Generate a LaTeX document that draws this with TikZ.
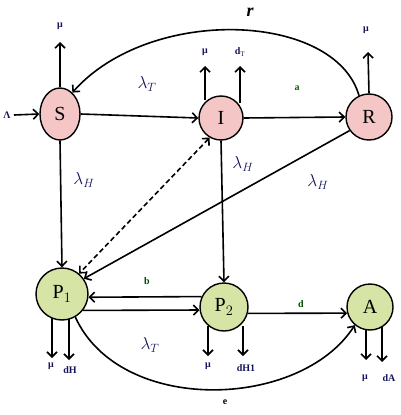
\documentclass[tikz,border=0pt]{standalone}
\usepackage{fontspec}
\setmainfont{Liberation Serif}
\usetikzlibrary{arrows.meta,shapes.geometric}
\definecolor{pinkfill}{RGB}{244,198,198}
\definecolor{greenfill}{RGB}{214,228,166}
\definecolor{navy}{RGB}{20,20,90}
\begin{document}
\begin{tikzpicture}[x=1pt,y=-1pt,
  comp/.style={draw=black,line width=1.4pt,inner sep=0pt,font=\fontsize{20}{22}\selectfont},
  pinkc/.style={comp,fill=pinkfill},
  greenc/.style={comp,fill=greenfill},
  tip/.tip={Straight Barb[length=5pt,width=10pt,line width=1.6pt]},
  arr/.style={line width=1.6pt,-tip},
  arrf/.style={line width=1.6pt,-tip},
  small/.style={font=\fontsize{10}{11}\selectfont\bfseries,text=navy,inner sep=1pt},
  lam/.style={font=\fontsize{17}{19}\selectfont,text=navy,inner sep=1pt}]
\useasboundingbox (0,0) rectangle (401,415);
\node[pinkc,ellipse,minimum width=40pt,minimum height=52pt] (S) at (60,114) {S};
\node[pinkc,circle,minimum size=44pt] (I) at (221,118) {I};
\node[pinkc,circle,minimum size=46pt] (R) at (369,117) {R};
\node[greenc,circle,minimum size=52pt] (P1) at (62,294) {P$_1$};
\node[greenc,circle,minimum size=48pt] (P2) at (224,307) {P$_2$};
\node[greenc,circle,minimum size=46pt] (A) at (370,307) {A};

% labels
\node[small] (Lam) at (7,115) {Λ};
\node[small] (muS) at (60,26) {μ};
\node[small] (muI) at (205,52) {μ};
\node[small] (dT) at (240,52) {d$_{\mathrm T}$};
\node[small] (muR) at (366,30) {μ};
\node[small] (muP1) at (51,366) {μ};
\node[small] (dH) at (70,370) {dH};
\node[small] (muP2) at (208,366) {μ};
\node[small] (dH1) at (246,368) {dH1};
\node[small] (muA) at (365,378) {μ};
\node[small] (dA) at (389,378) {dA};
\node[small,text=black!60!green] (la) at (297,88) {a};
\node[small,text=black!70!green] (lb) at (147,281) {b};
\node[small,text=black!70!green] (ld) at (301,304) {d};
\node[small,text=black] (le) at (225,402) {e};
\node[lam,text=black,font=\fontsize{18}{19}\selectfont\bfseries\itshape] (lr) at (250,12) {r};
\node[lam] (lT1) at (147,84) {$\lambda_T$};
\node[lam] (lH1) at (84,180) {$\lambda_H$};
\node[lam] (lH2) at (243,164) {$\lambda_H$};
\node[lam] (lH3) at (318,182) {$\lambda_H$};
\node[lam] (lT2) at (150,345) {$\lambda_T$};

% outflow coordinates
\coordinate (Lin) at (14,115);
\coordinate (muSe) at (60,42);
\coordinate (muIs) at (205,100);
\coordinate (muIe) at (205,66);
\coordinate (dTs) at (240,103);
\coordinate (dTe) at (240,66);
\coordinate (muRe) at (368,52);
\coordinate (muP1s) at (52,318);
\coordinate (muP1e) at (52,358);
\coordinate (dHs) at (69,319);
\coordinate (dHe) at (69,360);
\coordinate (muP2s) at (208,326);
\coordinate (muP2e) at (208,356);
\coordinate (dH1s) at (243,326);
\coordinate (dH1e) at (243,356);
\coordinate (muAs) at (366,330);
\coordinate (muAe) at (366,360);
\coordinate (dAs) at (382,327);
\coordinate (dAe) at (382,362);

\draw[arrf] (Lin) -- (S.west);
\draw[arrf] (S.north) -- (muSe);
\draw[arrf] (muIs) -- (muIe);
\draw[arrf] (dTs) -- (dTe);
\draw[arrf] (R.north) -- (muRe);
\draw[arrf] (muP1s) -- (muP1e);
\draw[arrf] (dHs) -- (dHe);
\draw[arrf] (muP2s) -- (muP2e);
\draw[arrf] (dH1s) -- (dH1e);
\draw[arrf] (muAs) -- (muAe);
\draw[arrf] (dAs) -- (dAe);

\draw[arr] (S.east) -- (I.west);
\draw[arr] (I.east) -- (R.west);
\draw[arr] (S.south) -- (P1.north);
\draw[arr] (I.south) -- (P2.north);
\draw[arr] (R.-145) -- (P1.35);
\draw[line width=1.6pt,dash pattern=on 5pt off 3pt,tip-tip] (I.-120) -- (P1.50);
\draw[arr] (P2.155) -- (P1.-7);
\draw[arr] (P1.-38) -- (P2.-173);
\draw[arr] (P2.-15) -- (A.-165);
\draw[arr] (R.115) .. controls (335,12) and (150,5) .. (S.60);
\draw[arr] (P1.-60) .. controls (120,415) and (300,410) .. (A.-130);
\end{tikzpicture}
\end{document}
